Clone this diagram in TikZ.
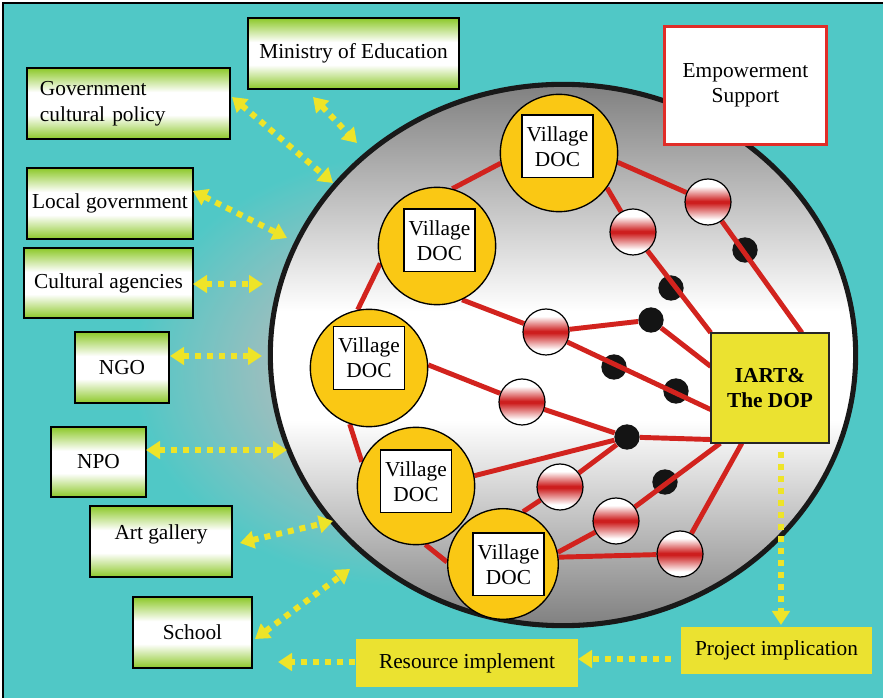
\documentclass[tikz,border=0pt]{standalone}
\usepackage{fontspec}
\setmainfont{Liberation Serif}
\usetikzlibrary{arrows.meta,shapes.geometric}
\definecolor{bgcyan}{RGB}{80,200,198}
\definecolor{halogrey}{RGB}{158,190,190}
\definecolor{gboxgreen}{RGB}{140,200,40}
\definecolor{ballred}{RGB}{205,30,30}
\definecolor{linered}{RGB}{210,35,30}
\definecolor{villyellow}{RGB}{250,200,20}
\definecolor{boxyellow}{RGB}{235,226,48}
\definecolor{arrowyellow}{RGB}{238,228,40}
\definecolor{discgray}{RGB}{128,128,128}
\definecolor{emred}{RGB}{225,45,40}
\pgfdeclareverticalshading{gshade}{100bp}{color(0bp)=(gboxgreen); color(25bp)=(gboxgreen); color(42bp)=(white); color(58bp)=(white); color(75bp)=(gboxgreen); color(100bp)=(gboxgreen)}
\pgfdeclareverticalshading{ballshade}{100bp}{color(0bp)=(white); color(31bp)=(white); color(49bp)=(ballred); color(51bp)=(ballred); color(67bp)=(white); color(100bp)=(white)}
\pgfdeclareverticalshading{discshade}{100bp}{color(0bp)=(discgray); color(25bp)=(discgray); color(44bp)=(white); color(54bp)=(white); color(75bp)=(discgray); color(100bp)=(discgray)}
\pgfdeclareradialshading{haloshade}{\pgfpoint{0bp}{0bp}}{color(0bp)=(halogrey); color(8bp)=(halogrey); color(16bp)=(bgcyan); color(50bp)=(bgcyan)}
\begin{document}
\begin{tikzpicture}[x=0.75pt,y=-0.75pt,
  every node/.style={font=\fontsize{16}{19.5}\selectfont},
  gbox/.style={draw=black, line width=1.2pt, shade, shading=gshade, minimum height=53.25pt, inner sep=0pt, align=center},
  vcirc/.style={circle, draw=black, line width=1pt, fill=villyellow, minimum size=88pt, inner sep=0pt},
  vbox/.style={draw=black, line width=1pt, fill=white, minimum width=53.25pt, minimum height=47pt, inner sep=0pt, align=center, font=\fontsize{16}{19}\selectfont},
  ball/.style={circle, draw=black, line width=0.9pt, shade, shading=ballshade, minimum size=34.5pt, inner sep=0pt},
  bdot/.style={circle, fill=black!92, minimum size=19pt, inner sep=0pt},
  redline/.style={draw=linered, line width=3.7pt},
  yarrow/.style={draw=arrowyellow, line width=4.5pt, dash pattern=on 4.5pt off 4.5pt, {Triangle[length=10.5pt,width=13pt]}-{Triangle[length=10.5pt,width=13pt]}},
  yone/.style={draw=arrowyellow, line width=4.5pt, dash pattern=on 4.5pt off 4.5pt, -{Triangle[length=10.5pt,width=13pt]}},
  ybox/.style={fill=boxyellow, inner sep=0pt, align=center}
]
\useasboundingbox (0,0) rectangle (883,698);
\fill[white] (0,0) rectangle (883,698);
\begin{scope}
  \clip (3,3) rectangle (883,698);
  \fill[bgcyan] (3,3) rectangle (883,698);
  \shade[shading=haloshade] (420,370) ellipse [x radius=337.5pt, y radius=255pt];
\end{scope}
\draw[line width=1.5pt] (3,698) -- (3,3) -- (883,3);

% central disc
\node[ellipse, draw=black!90, line width=3.8pt, shade, shading=discshade, minimum width=439pt, minimum height=406pt, inner sep=0pt] (disc) at (563,355) {};

% black dots
\node[bdot] (B1) at (745,250) {};
\node[bdot] (B2) at (671,288) {};
\node[bdot] (B3) at (651,320) {};
\node[bdot] (B4) at (614,367) {};
\node[bdot] (B5) at (676,391) {};
\node[bdot] (B6) at (627,437) {};
\node[bdot] (B7) at (665,482) {};

% named nodes placed (drawn later on top)
\path (559,153) coordinate (cV1) (437,246) coordinate (cV2) (369,368) coordinate (cV3)
      (416,486) coordinate (cV4) (503,564) coordinate (cV5);
\node[vcirc, draw=none, fill=none] (V1) at (cV1) {};
\node[vcirc, draw=none, fill=none] (V2) at (cV2) {};
\node[vcirc, draw=none, fill=none] (V3) at (cV3) {};
\node[vcirc, draw=none, fill=none] (V4) at (cV4) {};
\node[vcirc, draw=none, fill=none, minimum size=83pt] (V5) at (cV5) {};
\node[ball, draw=none, shade=false] (R1) at (708,202) {};
\node[ball, draw=none, shade=false] (R2) at (633,232) {};
\node[ball, draw=none, shade=false] (R3) at (546,332) {};
\node[ball, draw=none, shade=false] (R4) at (522,402) {};
\node[ball, draw=none, shade=false] (R5) at (560,487) {};
\node[ball, draw=none, shade=false] (R6) at (616,521) {};
\node[ball, draw=none, shade=false] (R7) at (680,554) {};
\node[minimum width=88.5pt, minimum height=82.5pt, inner sep=0pt] (IART) at (770,388) {};

% red connectors
\draw[redline] (V1.190) -- (V2.75);
\draw[redline] (V2.197) -- (V3.101);
\draw[redline] (V3.251) -- (V4.156);
\draw[redline] (V4.279) -- (V5.178);
\draw[redline] (V1.351) -- (R1);
\draw[redline] (R1) -- (IART.60);
\draw[redline] (V1.324) -- (R2);
\draw[redline] (R2) -- (IART.north west);
\draw[redline] (V2.295) -- (R3);
\draw[redline] (R3) -- (B3);
\draw[redline] (B3) -- (IART.160);
\draw[redline] (R3) -- (IART.200);
\draw[redline] (V3.3) -- (R4);
\draw[redline] (R4) -- (B6);
\draw[redline] (B6) -- (IART.221);
\draw[redline] (V4.10) -- (B6);
\draw[redline] (R5) -- (B6);
\draw[redline] (V5.69) -- (R5);
\draw[redline] (V5.12) -- (R6);
\draw[redline] (R6) -- (IART.228);
\draw[redline] (V5.7) -- (R7);
\draw[redline] (R7) -- (IART.243);

% visible balls
\foreach \n in {R1,R2,R3,R4,R5,R6,R7}
  \node[ball] at (\n) {};
% visible village circles and boxes
\node[vcirc] at (cV1) {};
\node[vcirc] at (cV2) {};
\node[vcirc] at (cV3) {};
\node[vcirc] at (cV4) {};
\node[vcirc, minimum size=83pt] at (cV5) {};
\node[vbox] (V1t) at (557.5,146.5) {Village\\DOC};
\node[vbox] (V2t) at (439.5,240.5) {Village\\DOC};
\node[vbox] (V3t) at (369,358) {Village\\DOC};
\node[vbox] (V4t) at (416,481.5) {Village\\DOC};
\node[vbox] (V5t) at (508.5,564.5) {Village\\DOC};

% IART box
\node[draw=black!85, line width=1pt, fill=boxyellow, minimum width=88.5pt, minimum height=82.5pt, inner sep=0pt, align=center, font=\fontsize{16}{19}\selectfont\bfseries] at (770,388) {IART\&\\The DOP};

% Empowerment box
\node[draw=emred, line width=2.4pt, fill=white, minimum width=122pt, minimum height=88pt, inner sep=0pt, align=center, font=\fontsize{16}{19}\selectfont] (emp) at (745.5,85.5) {Empowerment\\Support};

% green boxes
\node[gbox, minimum width=158.25pt] (min) at (353.5,53.5) {Ministry of Education};
\node[gbox, minimum width=152.25pt, text width=132.75pt, inner xsep=9.75pt, align=left] (gov) at (128.5,103.5) {Government\\cultural policy};
\node[gbox, minimum width=124.5pt] (loc) at (110,203.5) {Local government};
\node[gbox, minimum width=126.75pt, minimum height=52.5pt] (cul) at (108.5,283) {Cultural agencies};
\node[gbox, minimum width=70.5pt] (ngo) at (122,367.5) {NGO};
\node[gbox, minimum width=71.25pt, minimum height=52.5pt] (npo) at (98.5,462) {NPO};
\node[gbox, minimum width=106.5pt, text height=11pt, text depth=14.5pt] (art) at (161,541.5) {Art gallery};
\node[gbox, minimum width=89.25pt] (sch) at (192.5,632.5) {School};

% yellow boxes
\node[ybox, minimum width=166.5pt, minimum height=36pt] (res) at (467,663) {Resource implement};
\node[ybox, minimum width=143.25pt, minimum height=35.25pt] (proj) at (776.5,650.5) {Project implication};

% arrow end points
\coordinate (a1s) at (313,97);  \coordinate (a1e) at (357,143);
\coordinate (a2s) at (232,97);  \coordinate (a2e) at (333,183);
\coordinate (a3s) at (193,191); \coordinate (a3e) at (287,238);
\coordinate (a4s) at (193,284); \coordinate (a4e) at (263,284);
\coordinate (a5s) at (170,356); \coordinate (a5e) at (262,356);
\coordinate (a6s) at (146,450); \coordinate (a6e) at (287,450);
\coordinate (a7s) at (240,543); \coordinate (a7e) at (333,521);
\coordinate (a8s) at (255,639); \coordinate (a8e) at (350,569);
\coordinate (a9s) at (781,452); \coordinate (a9e) at (781,625);
\coordinate (a10s) at (671,659); \coordinate (a10e) at (578,659);
\coordinate (a11s) at (355,662); \coordinate (a11e) at (278,662);

\draw[yarrow] (a1s) -- (a1e);
\draw[yarrow] (a2s) -- (a2e);
\draw[yarrow] (a3s) -- (a3e);
\draw[yarrow] (a4s) -- (a4e);
\draw[yarrow] (a5s) -- (a5e);
\draw[yarrow] (a6s) -- (a6e);
\draw[yarrow] (a7s) -- (a7e);
\draw[yarrow] (a8s) -- (a8e);
\draw[yone] (a9s) -- (a9e);
\draw[yone] (a10s) -- (a10e);
\draw[yone] (a11s) -- (a11e);
\end{tikzpicture}
\end{document}
